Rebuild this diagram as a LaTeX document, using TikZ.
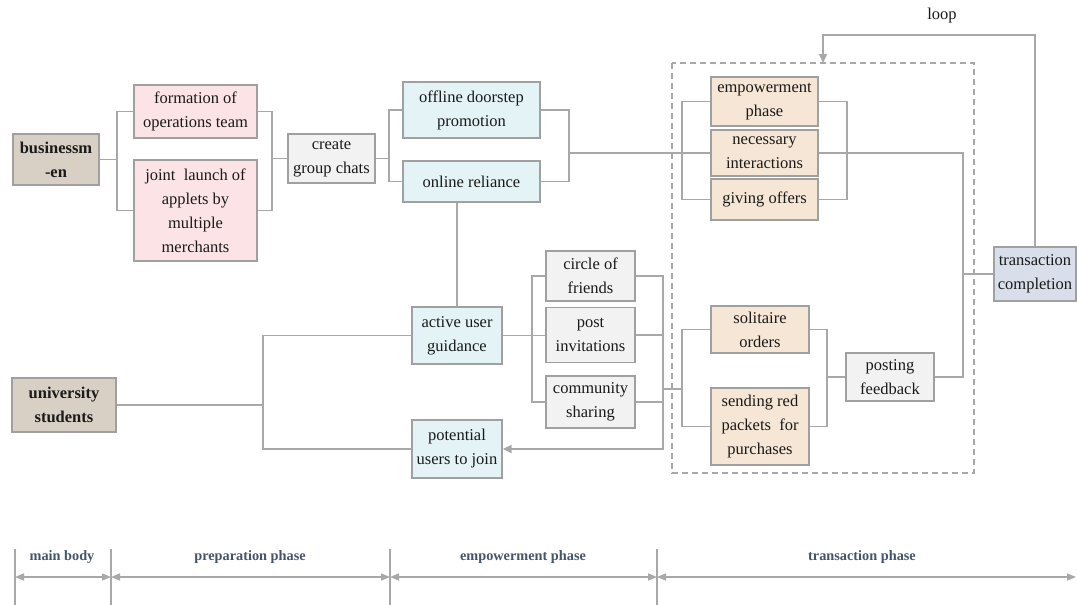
\documentclass[tikz,border=0pt]{standalone}
\usepackage{fontspec}
\setmainfont{Liberation Serif}
\usetikzlibrary{arrows.meta,calc}
\definecolor{lc}{HTML}{A8A8A8}
\definecolor{bc}{HTML}{A0A0A0}
\definecolor{tan}{HTML}{D9D0C5}
\definecolor{pinkf}{HTML}{FCE4E6}
\definecolor{grayf}{HTML}{F2F2F2}
\definecolor{cyanf}{HTML}{E4F3F5}
\definecolor{peachf}{HTML}{F6E6D6}
\definecolor{bluef}{HTML}{D8DFEA}
\definecolor{slate}{HTML}{44546A}
\definecolor{txt}{HTML}{1A1A1A}
\tikzset{
  box/.style={draw=bc, line width=1.3pt, inner sep=0pt, align=center, text=txt,
    font=\fontsize{16.5}{24}\selectfont},
  boldbox/.style={box, font=\fontsize{16.5}{24}\selectfont\bfseries},
  conn/.style={draw=lc, line width=1.4pt},
  tip/.style={-{Triangle[length=9pt,width=8pt]}},
  dtip/.style={{Triangle[length=9pt,width=7pt]}-{Triangle[length=9pt,width=7pt]}},
  phase/.style={font=\fontsize{14.3}{18}\selectfont\bfseries, text=slate},
}
\begin{document}
\begin{tikzpicture}[x=1pt,y=-1pt]
\useasboundingbox (0,0) rectangle (1077,605);
% nodes
\node[boldbox, fill=tan, minimum width=86, minimum height=51] (bm) at (56,159.5) {businessm\\-en};
\node[box, fill=pinkf, minimum width=123, minimum height=53] (form) at (195.5,111.5) {formation of\\operations team};
\node[box, fill=pinkf, minimum width=123, minimum height=101] (joint) at (195.5,210.5) {joint\ \ launch of\\applets by\\multiple\\merchants};
\node[box, fill=grayf, minimum width=87, minimum height=49] (create) at (331.5,158.5) {create\\group chats};
\node[box, fill=cyanf, minimum width=137, minimum height=56] (offline) at (471.5,110) {offline doorstep\\promotion};
\node[box, fill=cyanf, minimum width=137, minimum height=41] (online) at (471.5,181.5) {online reliance};
\node[box, fill=peachf, minimum width=107, minimum height=49] (emp) at (764.5,101.5) {empowerment\\phase};
\node[box, fill=peachf, minimum width=107, minimum height=46] (nec) at (764.5,153) {necessary\\interactions};
\node[box, fill=peachf, minimum width=107, minimum height=41] (give) at (764.5,199.5) {giving offers};
\node[box, fill=bluef, minimum width=82, minimum height=54] (trans) at (1035,274) {transaction\\completion};
\node[box, fill=grayf, minimum width=88, minimum height=48] (fb) at (890,377) {posting\\feedback};
\node[box, fill=peachf, minimum width=98, minimum height=47] (sol) at (760,329.5) {solitaire\\orders};
\node[box, fill=peachf, minimum width=98, minimum height=77] (red) at (760,426.5) {sending red\\packets\ \ for\\purchases};
\node[box, fill=grayf, minimum width=89, minimum height=50] (circ) at (590.5,276) {circle of\\friends};
\node[box, fill=grayf, minimum width=89, minimum height=55] (pinv) at (590.5,335) {post\\invitations};
\node[box, fill=grayf, minimum width=89, minimum height=52] (comm) at (590.5,402) {community\\sharing};
\node[box, fill=cyanf, minimum width=90, minimum height=57] (act) at (457,335.5) {active user\\guidance};
\node[box, fill=cyanf, minimum width=90, minimum height=58] (pot) at (457,449) {potential\\users to join};
\node[boldbox, fill=tan, minimum width=104, minimum height=54] (univ) at (64,405) {university\\students};
\node[font=\fontsize{16.5}{18}\selectfont, text=txt] (loop) at (942,16) {loop};
% bracket x positions
\coordinate (x1) at (117,0);
\coordinate (x2) at (272,0);
\coordinate (x3) at (389,0);
\coordinate (x4) at (569,0);
\coordinate (x5) at (682,0);
\coordinate (x6) at (847,0);
\coordinate (x7) at (963,0);
\coordinate (x8) at (263,0);
\coordinate (x9) at (532,0);
\coordinate (x10) at (663,0);
\coordinate (x11) at (827,0);
% dashed frame
\draw[draw=lc, line width=1.3pt, dash pattern=on 6pt off 4pt] (672,63) rectangle (974,473);
% connectors
\draw[conn] (bm.east) -- (bm.east -| x1);
\draw[conn] (form.west) -| (x1 |- joint.west) -- (joint.west);
\draw[conn] (form.east) -| (x2 |- joint.east) -- (joint.east);
\draw[conn] (create.west) -- (create.west -| x2);
\draw[conn] (create.east) -- (create.east -| x3);
\draw[conn] (offline.west) -| (x3 |- online.west) -- (online.west);
\draw[conn] (offline.east) -| (x4 |- online.east) -- (online.east);
\draw[conn] (nec.west) -- (nec.west -| x4);
\draw[conn] (emp.west) -| (x5 |- give.west) -- (give.west);
\draw[conn] (emp.east) -| (x6 |- give.east) -- (give.east);
\draw[conn] (nec.east) -| (x7 |- fb.east) -- (fb.east);
\draw[conn] (trans.west) -- (trans.west -| x7);
\coordinate (lt) at (823,63);
\draw[conn, tip] (trans.north) |- (lt |- 0,35) -- (lt);
\draw[conn] (act.north) -- (act.north |- online.south);
\draw[conn] (univ.east) -- (univ.east -| x8);
\draw[conn] (act.west) -| (x8 |- pot.west) -- (pot.west);
\draw[conn] (act.east) -- (act.east -| pinv.west);
\draw[conn] (circ.west) -| (x9 |- comm.west) -- (comm.west);
\draw[conn, tip] (circ.east) -| (x10 |- pot.east) -- (pot.east);
\draw[conn] (pinv.east) -- (pinv.east -| x10);
\draw[conn] (comm.east) -- (comm.east -| x10);
\coordinate (mid) at (0,389);
\draw[conn] (x10 |- mid) -- (x5 |- mid);
\draw[conn] (sol.west) -| (x5 |- red.west) -- (red.west);
\draw[conn] (sol.east) -| (x11 |- red.east) -- (red.east);
\draw[conn] (fb.west) -- (fb.west -| x11);
% bottom phase scale
\coordinate (t1) at (15,549);
\coordinate (t2) at (111,549);
\coordinate (t3) at (390,549);
\coordinate (t4) at (657,549);
\coordinate (t5) at (1076,549);
\foreach \t in {t1,t2,t3,t4} \draw[conn] (\t) -- ++(0,56);
\coordinate (ay) at (0,577);
\draw[conn, dtip] (t1 |- ay) -- (t2 |- ay);
\draw[conn, dtip] (t2 |- ay) -- (t3 |- ay);
\draw[conn, dtip] (t3 |- ay) -- (t4 |- ay);
\draw[conn, dtip] (t4 |- ay) -- (t5 |- ay);
\node[phase] (p1) at (62,557) {main body};
\node[phase] (p2) at (250,557) {preparation phase};
\node[phase] (p3) at (523,557) {empowerment phase};
\node[phase] (p4) at (862,557) {transaction phase};
\end{tikzpicture}
\end{document}
